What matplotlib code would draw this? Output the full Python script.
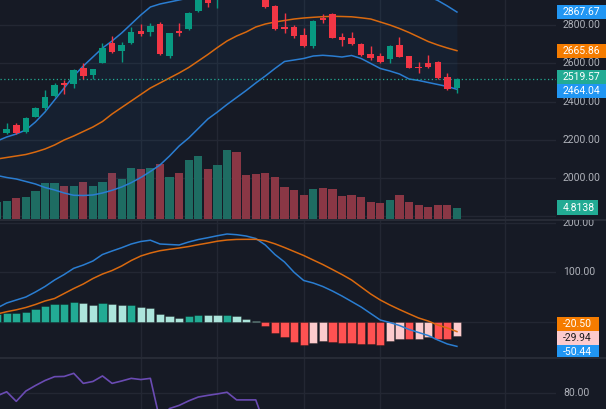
import matplotlib
matplotlib.use("Agg")
import matplotlib.pyplot as plt
from matplotlib.patches import Rectangle
from matplotlib.lines import Line2D
from matplotlib import transforms

# ---------------- data ----------------
opens = [2189.0, 2234.5, 2277.8, 2239.7, 2321.1, 2365.0, 2429.2, 2495.6, 2491.9, 2573.9,
         2538.9, 2603.1, 2707.6, 2665.8, 2704.4, 2770.2, 2765.0, 2803.7, 2638.1, 2770.2,
         2777.5, 2873.1, 2960.0, 2935.8, 2975.0, 3030.0, 2995.0, 2985.0, 2945.0, 2899.2,
         2791.1, 2788.0, 2747.8, 2691.9, 2835.0, 2857.4, 2738.9, 2733.7, 2700.8, 2648.6,
         2638.1, 2620.9, 2695.6, 2638.1, 2582.3, 2603.1, 2606.8, 2526.9, 2469.4]
highs = [2225.0, 2286.7, 2289.8, 2317.0, 2369.2, 2460.6, 2495.6, 2512.8, 2570.2, 2603.1,
         2572.8, 2707.6, 2742.6, 2712.8, 2791.1, 2805.2, 2808.9, 2815.7, 2760.8, 2812.0,
         2865.3, 2980.0, 2975.0, 3000.0, 3030.0, 3045.0, 3005.0, 2995.0, 2955.0, 2905.0,
         2864.2, 2800.0, 2782.8, 2823.5, 2855.9, 2860.1, 2756.7, 2761.9, 2706.0, 2690.3,
         2652.2, 2693.0, 2735.8, 2640.7, 2605.2, 2643.3, 2612.0, 2550.9, 2521.0]
lows = [2180.0, 2228.2, 2228.2, 2236.1, 2317.0, 2356.1, 2424.0, 2439.7, 2469.4, 2518.0,
        2518.0, 2599.0, 2653.8, 2608.4, 2700.8, 2742.6, 2742.6, 2643.3, 2629.2, 2744.1,
        2773.9, 2867.9, 2892.4, 2887.2, 2945.0, 2975.0, 2945.0, 2938.0, 2886.2, 2773.9,
        2759.8, 2733.7, 2687.7, 2681.5, 2808.9, 2729.5, 2690.3, 2695.6, 2638.1, 2617.2,
        2601.6, 2603.1, 2631.3, 2573.9, 2550.9, 2573.9, 2518.0, 2460.6, 2443.3]
closes = [2215.1, 2256.9, 2234.5, 2312.8, 2365.0, 2422.4, 2486.7, 2488.3, 2563.4, 2532.1,
          2568.7, 2678.3, 2657.4, 2695.6, 2761.9, 2753.0, 2794.8, 2647.0, 2756.7, 2759.8,
          2861.1, 2972.3, 2916.5, 2990.0, 3020.0, 2990.0, 2960.0, 2950.0, 2892.4, 2777.5,
          2780.7, 2744.1, 2690.3, 2820.9, 2826.1, 2733.7, 2721.7, 2699.2, 2643.3, 2629.2,
          2605.2, 2690.3, 2634.5, 2577.0, 2573.9, 2582.3, 2521.7, 2464.2, 2519.57]
volume = [7.6, 8.0, 9.1, 9.5, 12.3, 15.6, 15.6, 14.3, 14.6, 16.3,
          14.4, 16.1, 20.0, 17.5, 22.2, 21.7, 22.2, 24.1, 18.2, 20.3,
          26.0, 27.6, 21.7, 23.8, 30.2, 29.2, 19.1, 19.7, 20.0, 18.5,
          14.1, 12.6, 10.6, 13.3, 13.7, 13.3, 9.9, 10.4, 9.5, 7.6,
          7.1, 8.3, 10.6, 7.6, 6.1, 5.1, 6.0, 6.0, 4.8138]
bb_upper = [2194.3, 2215.2, 2230.8, 2251.7, 2293.5, 2345.7, 2408.4, 2471.0, 2533.7, 2585.9,
            2632.9, 2679.9, 2716.5, 2758.2, 2805.2, 2852.2, 2894.0, 2909.7, 2920.1, 2930.5,
            2941.0, 2961.8, 2982.9, 3019.3, 3048.1, 3063.8, 3069.0, 3082.1, 3076.7, 3058.6,
            3037.6, 3045.4, 3048.1, 3042.3, 3044.8, 3052.7, 3055.9, 3044.9, 3050.1, 3063.6,
            3058.6, 3040.2, 3019.3, 3003.6, 2975.0, 2950.0, 2928.0, 2899.2, 2867.67]
bb_basis = [2100.3, 2108.1, 2115.9, 2123.8, 2136.8, 2152.5, 2173.4, 2199.5, 2220.4, 2243.9,
            2267.4, 2296.1, 2335.2, 2369.2, 2403.1, 2437.1, 2471.0, 2497.1, 2523.3, 2549.4,
            2578.1, 2612.0, 2646.0, 2682.5, 2716.5, 2742.6, 2763.5, 2789.6, 2805.2, 2815.7,
            2823.5, 2831.3, 2836.6, 2840.2, 2843.3, 2845.4, 2844.4, 2842.8, 2837.6, 2831.3,
            2815.7, 2800.0, 2781.7, 2760.8, 2737.3, 2713.8, 2695.6, 2679.9, 2665.86]
bb_lower = [2014.1, 2003.6, 1995.8, 1982.8, 1969.7, 1951.4, 1938.4, 1922.7, 1910.7, 1909.6,
            1912.3, 1922.7, 1936.8, 1954.0, 1976.5, 2003.6, 2035.0, 2068.9, 2115.9, 2168.1,
            2209.9, 2259.5, 2309.1, 2345.7, 2384.9, 2421.4, 2458.0, 2497.1, 2533.7, 2572.8,
            2609.4, 2617.2, 2625.1, 2638.1, 2641.8, 2638.1, 2632.9, 2640.7, 2625.1, 2599.0,
            2572.8, 2559.8, 2544.1, 2518.0, 2510.2, 2499.7, 2489.3, 2478.9, 2464.04]
macd = [27.4, 37.5, 43.6, 49.7, 59.8, 71.0, 84.2, 95.3, 107.9, 114.6,
        122.7, 135.9, 143.0, 149.7, 157.2, 162.3, 164.9, 157.2, 156.2, 155.2,
        161.3, 166.3, 170.0, 174.0, 177.5, 176.1, 173.4, 168.4, 155.2, 135.9,
        120.7, 99.8, 83.2, 78.1, 71.0, 61.9, 51.7, 40.6, 29.4, 16.2,
        3.0, -2.0, -8.1, -16.2, -22.3, -28.4, -37.5, -45.6, -50.44]
signal = [15.2, 19.9, 23.7, 28.4, 34.5, 41.6, 46.7, 56.8, 66.9, 76.1,
          87.2, 96.3, 103.4, 112.6, 123.7, 132.9, 138.9, 143.6, 146.5, 149.1,
          152.1, 155.8, 159.2, 162.9, 165.3, 166.5, 166.7, 166.7, 163.7, 157.6,
          150.1, 142.0, 133.9, 124.7, 115.6, 105.5, 95.3, 84.2, 70.0, 55.8,
          43.6, 33.5, 24.3, 15.6, 7.1, 1.0, -7.1, -13.2, -20.50]
hist = [15.0, 16.6, 17.0, 19.9, 25.4, 31.4, 35.0, 35.8, 38.9, 36.9,
        33.5, 36.9, 35.5, 33.5, 34.0, 30.0, 28.0, 15.8, 11.2, 7.7,
        11.2, 13.8, 13.5, 13.2, 13.8, 10.5, 5.1, 1.6, -8.5, -22.7,
        -32.0, -41.0, -47.7, -43.0, -39.6, -41.6, -43.0, -43.4, -46.2, -46.5,
        -46.8, -38.9, -36.1, -36.5, -34.9, -32.0, -34.6, -34.9, -29.94]
rsi = [78.8, 80.5, 76.5, 80.8, 83.1, 85.2, 86.8, 86.9, 88.2, 84.0,
       84.8, 87.1, 84.0, 85.0, 86.1, 85.6, 86.1, 68.5, 73.5, 74.8,
       76.7, 78.3, 79.0, 79.6, 80.3, 77.1, 77.1, 77.1, 66.0, 58.0,
       55.0, 52.0, 48.0, 50.0, 57.0, 50.0, 49.0, 47.0, 45.0, 42.0,
       40.0, 43.0, 47.0, 41.0, 40.0, 41.0, 37.0, 34.0, 38.0]
date_ticks = [15, 23, 32, 40, 53]
price_ticks = [1800, 2000, 2200, 2400, 2600, 2800]
price_tick_labels = [2000, 2200, 2400, 2600, 2800]
macd_ticks = [0, 100, 200]
macd_tick_labels = [100, 200]
rsi_ticks = [80]

# ---------------- style ----------------
W, H = 606, 409
BG = "#161a25"
GRID = "#232733"
SEP = "#2b2f3a"
TXT = "#aeb1b9"
UP = "#089981"
DOWN = "#f23645"
VOL_UP = "#1e6c62"
VOL_DN = "#8a3745"
BLUE = "#2a7dd1"
ORANGE = "#d9690f"
FONT = "Roboto"
PLOT_R = 556

x = list(range(len(closes)))
XLIM = (0.303, 58.34)

fig = plt.figure(figsize=(W / 100, H / 100), dpi=100, facecolor=BG)


def rect(x0, y0, x1, y1):
    return [x0 / W, 1 - y1 / H, (x1 - x0) / W, (y1 - y0) / H]


panes = {"main": (0, 219), "macd": (220, 357), "rsi": (358, 409)}


def make_pane(name, ylim, zorder=1):
    y0, y1 = panes[name]
    a = fig.add_axes(rect(0, y0, PLOT_R, y1))
    a.set_xlim(*XLIM)
    a.set_ylim(*ylim)
    a.set_facecolor(BG)
    for s in a.spines.values():
        s.set_visible(False)
    a.tick_params(left=False, bottom=False, labelleft=False, labelbottom=False)
    a.set_zorder(zorder)
    return a


# volume pane (behind price pane)
axv = make_pane("main", (0, 95.8), zorder=0)
ax = make_pane("main", (1786.9, 2930.55), zorder=1)
ax.patch.set_alpha(0)

gtrans = transforms.blended_transform_factory(axv.transAxes, ax.transData)
for p in price_ticks:
    axv.add_line(Line2D([0, 1], [p, p], transform=gtrans, color=GRID, lw=1, zorder=0))
for d in date_ticks:
    axv.axvline(d, color=GRID, lw=1, zorder=0)

vcols = [VOL_UP if c >= o else VOL_DN for o, c in zip(opens, closes)]
axv.bar(x, volume, width=0.86, color=vcols, zorder=1, linewidth=0)

# Bollinger bands
ax.fill_between(x, bb_lower, bb_upper, color="#2196f3", alpha=0.055, lw=0, zorder=1)
ax.plot(x, bb_upper, color=BLUE, lw=1.1, zorder=2)
ax.plot(x, bb_lower, color=BLUE, lw=1.1, zorder=2)
ax.plot(x, bb_basis, color=ORANGE, lw=1.1, zorder=2)

# candles
ccols = [UP if c >= o else DOWN for o, c in zip(opens, closes)]
ax.vlines(x, lows, highs, colors=ccols, lw=1.0, zorder=3)
px_price = (2930.55 - 1786.9) / 219.0
bodies = [max(abs(c - o), px_price * 1.2) for o, c in zip(opens, closes)]
bottoms = [min(o, c) for o, c in zip(opens, closes)]
ax.bar(x, bodies, bottom=bottoms, width=0.68, color=ccols, lw=0, zorder=4)

ax.axhline(closes[-1], color="#22ab94", lw=0.9, ls=(0, (1, 2)), zorder=2)

# MACD pane
axm = make_pane("macd", (-72.0, 205.9))
for t in macd_ticks:
    axm.axhline(t, color=GRID, lw=1, zorder=0)
for d in date_ticks:
    axm.axvline(d, color=GRID, lw=1, zorder=0)
hcols = []
prev = 0.0
for v in hist:
    if v >= 0:
        hcols.append("#22ab94" if v > prev else "#ace5dc")
    else:
        hcols.append("#ff5252" if v < prev else "#fccbcd")
    prev = v
axm.bar(x, hist, width=0.86, color=hcols, edgecolor=(0, 0, 0, 0.28), lw=0.7, zorder=1)
axm.plot(x, macd, color=BLUE, lw=1.1, zorder=2)
axm.plot(x, signal, color=ORANGE, lw=1.1, zorder=2)

# RSI pane
axr = make_pane("rsi", (73.3, 94.6))
for t in rsi_ticks:
    axr.axhline(t, color=GRID, lw=1, zorder=0)
for d in date_ticks:
    axr.axvline(d, color=GRID, lw=1, zorder=0)
axr.plot(x, rsi, color="#6a4bb3", lw=1.2, zorder=2)

# separators
for yy in (219.5, 357.5):
    fig.add_artist(Line2D([0, 1], [1 - yy / H, 1 - yy / H], transform=fig.transFigure,
                          color=SEP, lw=1.2))


# ---------------- price scales ----------------
def make_scale(name, ylim, zorder=2):
    y0, y1 = panes[name]
    s = fig.add_axes(rect(PLOT_R, y0, W, y1))
    s.set_xlim(0, W - PLOT_R)
    s.set_ylim(*ylim)
    s.axis("off")
    s.set_zorder(zorder)
    s.patch.set_alpha(0)
    return s


def px_per_unit(name, ylim):
    y0, y1 = panes[name]
    return (y1 - y0) / (ylim[1] - ylim[0])


def draw_labels(s, name, ylim, labels, box_h=14):
    k = px_per_unit(name, ylim)
    items = sorted(labels, key=lambda l: -l[0])
    cents = [(ylim[1] - l[0]) * k for l in items]
    clusters = [[i] for i in range(len(items))]
    changed = True
    while changed:
        changed = False
        out = []
        for cl in clusters:
            if out:
                pc = out[-1]
                pm = sum(cents[i] for i in pc) / len(pc)
                cm = sum(cents[i] for i in cl) / len(cl)
                if pm + len(pc) * box_h / 2 > cm - len(cl) * box_h / 2:
                    out[-1] = pc + cl
                    changed = True
                    continue
            out.append(cl)
        clusters = out
    for cl in clusters:
        m = sum(cents[i] for i in cl) / len(cl)
        top = m - len(cl) * box_h / 2
        for j, i in enumerate(cl):
            cpx = top + box_h * (j + 0.5)
            val, face, tc, wid = items[i]
            yc = ylim[1] - cpx / k
            hh = box_h / k
            s.add_patch(Rectangle((0.7, yc - hh / 2), wid, hh, facecolor=face,
                                  edgecolor="none", zorder=5, clip_on=True))
            s.text(7, yc, f"{val:.2f}" if abs(val) >= 10 else f"{val:.4f}",
                   color=tc, fontsize=7.5, family=FONT, va="center", ha="left",
                   zorder=6, clip_on=True)


main_lim = (1786.9, 2930.55)
sm = make_scale("main", main_lim)
for p in price_tick_labels:
    sm.text(7, p, f"{p:.2f}", color=TXT, fontsize=7.5, family=FONT, va="center",
            ha="left", clip_on=True)
draw_labels(sm, "main", main_lim, [
    (bb_upper[-1], "#2196f3", "white", 49.3),
    (bb_basis[-1], "#f57c00", "white", 49.3),
    (closes[-1], "#22ab94", "white", 49.3),
    (bb_lower[-1], "#2196f3", "white", 49.3),
])

vol_lim = (0, 95.8)
svol = make_scale("main", vol_lim, zorder=3)
draw_labels(svol, "main", vol_lim, [(volume[-1], "#22ab94", "white", 41.6)], box_h=15)

macd_lim = (-72.0, 205.9)
smc = make_scale("macd", macd_lim)
for t in macd_tick_labels:
    smc.text(7, t, f"{t:.2f}", color=TXT, fontsize=7.5, family=FONT, va="center",
             ha="left", clip_on=True)
draw_labels(smc, "macd", macd_lim, [
    (signal[-1], "#f57c00", "white", 42.6),
    (hist[-1], "#fccbcd", "#1a1a1a", 42.6),
    (macd[-1], "#2196f3", "white", 42.6),
])

rsi_lim = (73.3, 94.6)
srs = make_scale("rsi", rsi_lim)
for t in rsi_ticks:
    srs.text(7, t, f"{t:.2f}", color=TXT, fontsize=7.5, family=FONT, va="center",
             ha="left", clip_on=True)

fig.savefig("out.png", dpi=100, facecolor=BG)
